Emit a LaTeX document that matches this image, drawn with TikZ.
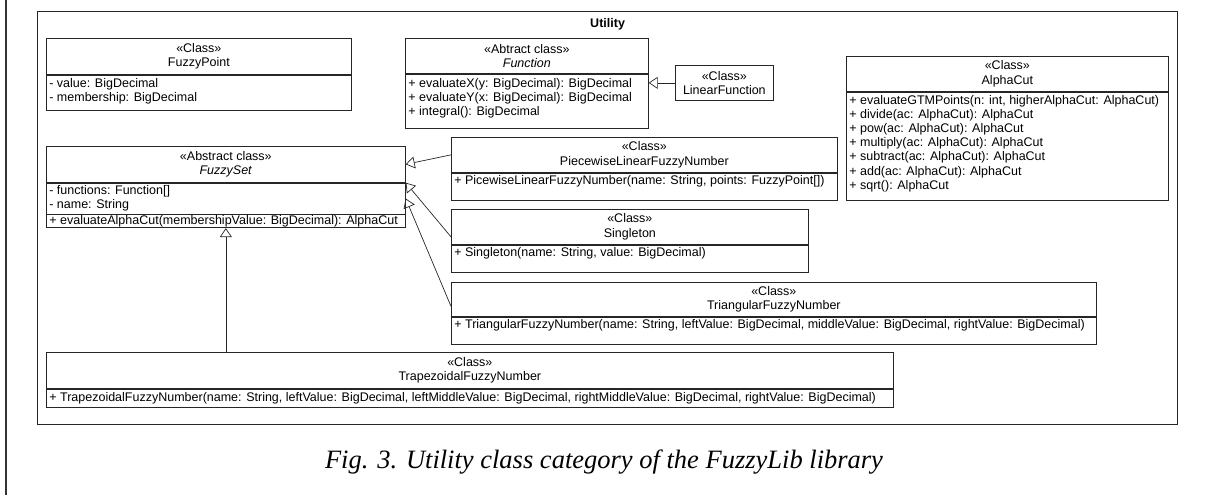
\documentclass[tikz,border=0pt]{standalone}
\usepackage{fontspec}
\usepackage{tikz}
\usetikzlibrary{arrows.meta, positioning}
\newfontfamily\umlsans{Liberation Sans}
\newfontfamily\capserif{Liberation Serif}
\newcommand{\umlfont}{\umlsans\fontsize{12.5}{14.2}\selectfont}
% one compartment: width, height, inner position, text
\newcommand{\umlpart}[4]{\parbox[c][#2][#3]{#1}{#4}}

\tikzset{
  part/.style={draw=black!85, line width=0.7pt, anchor=north west, inner xsep=3pt, inner ysep=0pt, font=\umlfont},
  gen/.style={draw=black!85, line width=0.7pt, -{Triangle[open, length=9pt, width=12pt]}},
}

\begin{document}
\begin{tikzpicture}[x=1pt, y=-1pt]
  \useasboundingbox (0,0) rectangle (1206,495);

  % page edge on the left
  \draw[line width=1.4pt, black!80] (6,0) -- (6,495);

  % the Utility package
  \node[draw=black!85, line width=1.2pt, anchor=north west, inner sep=0pt, minimum width=1140pt, minimum height=413pt] (utility) at (37,11) {};
  \node[font=\umlfont\bfseries, below=4pt of utility.north] (utilitytitle) {Utility};

  % FuzzyPoint
  \node[part] (fpointhead) at (46,38) {\umlpart{299pt}{36pt}{c}{\centering «Class»\\FuzzyPoint}};
  \node[part] (fpointbody) at (fpointhead.south west) {\umlpart{299pt}{35pt}{t}{\vspace{3pt}- value: BigDecimal\\- membership: BigDecimal}};

  % Function
  \node[part] (funchead) at (405,38) {\umlpart{237pt}{35pt}{c}{\centering «Abtract class»\\\textit{Function}}};
  \node[part] (funcbody) at (funchead.south west) {\umlpart{237pt}{54pt}{t}{\vspace{4pt}+ evaluateX(y: BigDecimal): BigDecimal\\+ evaluateY(x: BigDecimal): BigDecimal\\+ integral(): BigDecimal}};

  % LinearFunction
  \node[part] (linfunc) at (675,65) {\umlpart{92pt}{35pt}{c}{\centering «Class»\\LinearFunction}};

  % AlphaCut
  \node[part] (alphahead) at (846,56) {\umlpart{316pt}{35pt}{c}{\centering «Class»\\AlphaCut}};
  \node[part] (alphabody) at (alphahead.south west) {\umlpart{316pt}{108pt}{t}{\vspace{3pt}+ evaluateGTMPoints(n: int, higherAlphaCut: AlphaCut)\\+ divide(ac: AlphaCut): AlphaCut\\+ pow(ac: AlphaCut): AlphaCut\\+ multiply(ac: AlphaCut): AlphaCut\\+ subtract(ac: AlphaCut): AlphaCut\\+ add(ac: AlphaCut): AlphaCut\\+ sqrt(): AlphaCut}};

  % FuzzySet
  \node[part] (fsethead) at (46,146) {\umlpart{353pt}{36pt}{c}{\centering «Abstract class»\\\textit{FuzzySet}}};
  \node[part] (fsetattr) at (fsethead.south west) {\umlpart{353pt}{31pt}{t}{\vspace{2pt}- functions: Function[]\\- name: String}};
  \node[part] (fsetmeth) at (fsetattr.south west) {\umlpart{353pt}{13pt}{c}{+ evaluateAlphaCut(membershipValue: BigDecimal): AlphaCut}};

  % PiecewiseLinearFuzzyNumber
  \node[part] (piecehead) at (451,137) {\umlpart{380pt}{35pt}{c}{\centering «Class»\\PiecewiseLinearFuzzyNumber}};
  \node[part] (piecebody) at (piecehead.south west) {\umlpart{380pt}{27pt}{t}{\vspace{2pt}+ PicewiseLinearFuzzyNumber(name: String, points: FuzzyPoint[])}};

  % Singleton
  \node[part] (singhead) at (451,209) {\umlpart{351pt}{35pt}{c}{\centering «Class»\\Singleton}};
  \node[part] (singbody) at (singhead.south west) {\umlpart{351pt}{27pt}{t}{\vspace{2pt}+ Singleton(name: String, value: BigDecimal)}};

  % TriangularFuzzyNumber
  \node[part] (trihead) at (451,282) {\umlpart{639pt}{34pt}{c}{\centering «Class»\\TriangularFuzzyNumber}};
  \node[part] (tribody) at (trihead.south west) {\umlpart{639pt}{27pt}{t}{\vspace{2pt}+ TriangularFuzzyNumber(name: String, leftValue: BigDecimal, middleValue: BigDecimal, rightValue: BigDecimal)}};

  % TrapezoidalFuzzyNumber
  \node[part] (traphead) at (46,352) {\umlpart{841pt}{36pt}{c}{\centering «Class»\\TrapezoidalFuzzyNumber}};
  \node[part] (trapbody) at (traphead.south west) {\umlpart{841pt}{18pt}{c}{+ TrapezoidalFuzzyNumber(name: String, leftValue: BigDecimal, leftMiddleValue: BigDecimal, rightMiddleValue: BigDecimal, rightValue: BigDecimal)}};

  % generalizations
  \draw[gen] (linfunc.west) -- (linfunc.west -| funcbody.east);
  \draw[gen] (piecehead.west) -- (fsethead.east);
  \draw[gen] ([yshift=-10pt]singhead.west) -- (fsetattr.north east);
  \draw[gen] ([yshift=-7pt]trihead.west) -- (fsetattr.east);
  \draw[gen] (fsetmeth.south |- traphead.north) -- (fsetmeth.south);

  % caption
  \node[font=\capserif\itshape\fontsize{26.5}{30}\selectfont] (caption) at (604,462) {Fig. 3. Utility class category of the FuzzyLib library};
\end{tikzpicture}
\end{document}
